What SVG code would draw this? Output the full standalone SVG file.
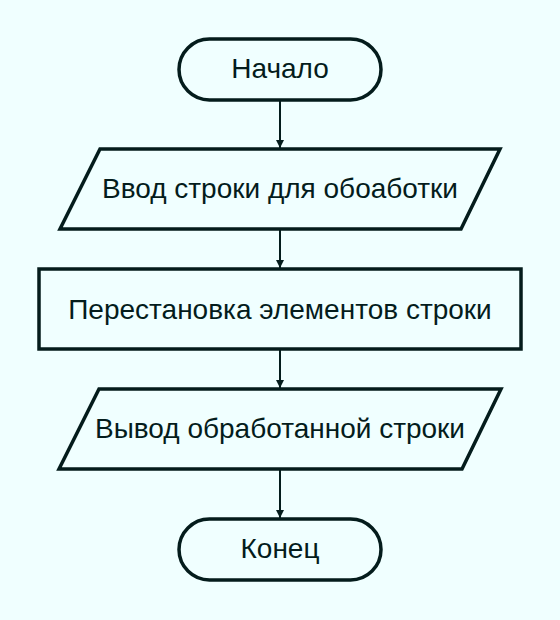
<svg xmlns="http://www.w3.org/2000/svg" width="560" height="620" viewBox="0 0 560 620">
<style>
.shape{fill:#f0ffff;stroke:#041c1c;stroke-width:3.5}
.lbl{font-family:"Liberation Sans",Arial,sans-serif;font-size:28px;fill:#041c1c;text-anchor:middle}
.conn{stroke:#041c1c;stroke-width:2;fill:none}
</style>
<defs>
<marker id="arr" viewBox="0 0 10 10" refX="10" refY="5" markerWidth="8" markerHeight="10" markerUnits="userSpaceOnUse" orient="auto">
<path d="M0,0 L10,5 L0,10 z" fill="#041c1c"/>
</marker>
</defs>
<rect width="560" height="620" fill="#f0ffff"/>
<g id="connectors">
<line class="conn" x1="280" y1="101" x2="280" y2="148" marker-end="url(#arr)"/>
<line class="conn" x1="280" y1="230" x2="280" y2="268" marker-end="url(#arr)"/>
<line class="conn" x1="280" y1="350" x2="280" y2="388" marker-end="url(#arr)"/>
<line class="conn" x1="280" y1="470" x2="280" y2="518" marker-end="url(#arr)"/>
</g>
<g id="start">
<rect class="shape" x="179" y="39" width="202" height="61" rx="30.5"/>
<text class="lbl" x="280" y="78">Начало</text>
</g>
<g id="input">
<polygon class="shape" points="100,149 500,149 461,229 60,229"/>
<text class="lbl" x="280" y="198">Ввод строки для обоаботки</text>
</g>
<g id="process">
<rect class="shape" x="39" y="269" width="482" height="80"/>
<text class="lbl" x="280" y="319">Перестановка элементов строки</text>
</g>
<g id="output">
<polygon class="shape" points="99,389 501,389 462,469 59,469"/>
<text class="lbl" x="280" y="438">Вывод обработанной строки</text>
</g>
<g id="end">
<rect class="shape" x="179" y="519" width="202" height="61" rx="30.5"/>
<text class="lbl" x="280" y="558">Конец</text>
</g>
</svg>
